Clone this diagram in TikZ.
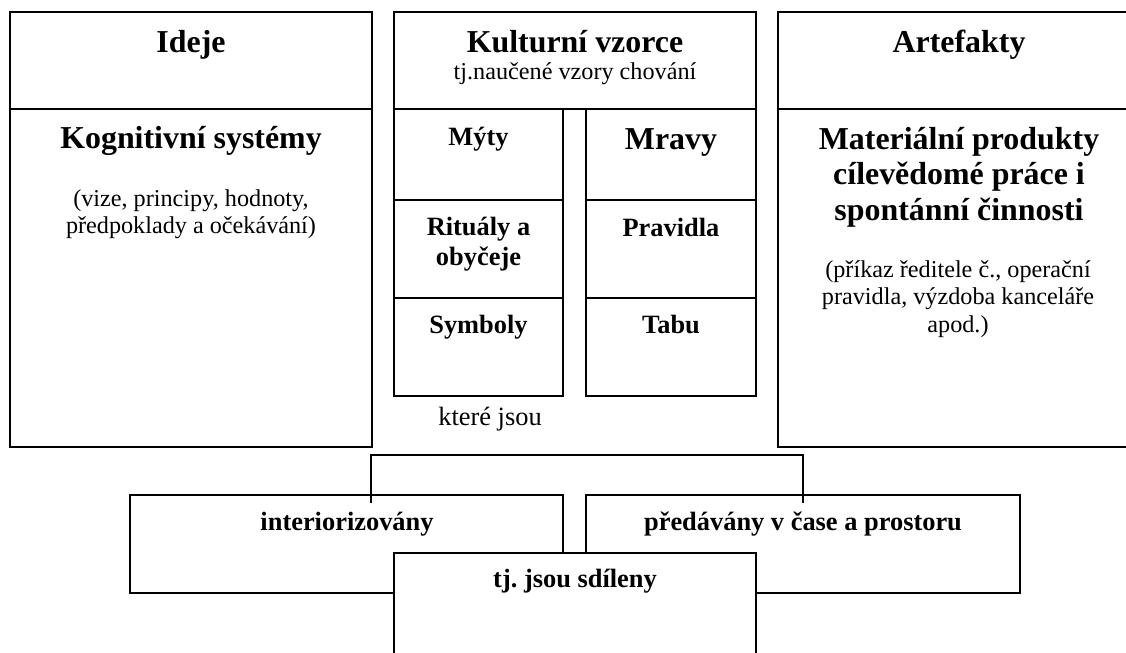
\documentclass[tikz,border=0pt]{standalone}
\usepackage{fontspec}
\setmainfont{Liberation Serif}
\frenchspacing
\usetikzlibrary{positioning}
\newlength\px
\setlength\px{0.4545pt}
\tikzset{%
  cell/.style 2 args = {shape=rectangle, draw, line width=0.5pt,%
                        anchor=north west, inner sep=0pt, outer sep=0pt,%
                        minimum width=#1\px, minimum height=#2\px},%
  bighead/.style = {anchor=base, align=center,%
                    font=\fontsize{14.5}{16}\selectfont\bfseries},%
  subhead/.style = {anchor=base, align=center,%
                    font=\fontsize{12}{13.2}\selectfont\bfseries},%
  remark/.style  = {anchor=base, align=center,%
                    font=\fontsize{11}{12}\selectfont},%
  link/.style    = {draw, line width=1pt}%
}

\begin{document}
\begin{tikzpicture}[x=\px, y=-\px]%
	\useasboundingbox (0,0) rectangle (1126,652);
	% upper row: three columns
	\node (ideH) at (10,12)  [cell={362}{97}]  {};%
	\node (ideB) at (10,109) [cell={362}{338}] {};%
	\node (kulH) at (394,12) [cell={362}{97}]  {};%
	\node (myty) at (394,109) [cell={169}{91}] {};%
	\node (ritu) at (394,200) [cell={169}{98}] {};%
	\node (symb) at (394,298) [cell={169}{98}] {};%
	\node (mrav) at (586,109) [cell={170}{91}] {};%
	\node (prav) at (586,200) [cell={170}{98}] {};%
	\node (tabu) at (586,298) [cell={170}{98}] {};%
	\node (artH) at (778,12)  [cell={362}{97}]  {};%
	\node (artB) at (778,109) [cell={362}{338}] {};%
	% texts (multi-line ones sit on their last line)
	\node (tIde) at (191,52)  [bighead] {Ideje};%
	\node (tKog) at (191,148) [bighead] {Kognitivní systémy};%
	\node (tVize) at (191,233) [remark] {(vize, principy, hodnoty,\\předpoklady a očekávání)};%
	\node (tKul) at (575,52)  [bighead] {Kulturní vzorce};%
	\node (tNau) at (575,79)  [remark]  {tj.naučené vzory chování};%
	\node (tMyt) at (478.5,145) [subhead] {Mýty};%
	\node (tRit) at (478.5,265) [subhead] {Rituály a\\obyčeje};%
	\node (tSym) at (478.5,333) [subhead] {Symboly};%
	\node (tMra) at (671,149) [bighead] {Mravy};%
	\node (tPra) at (671,236) [subhead] {Pravidla};%
	\node (tTab) at (671,333) [subhead] {Tabu};%
	\node (tJsou) at (490,425) [remark, font=\fontsize{12}{13}\selectfont] {které jsou};%
	\node (tArt) at (959,52)  [bighead] {Artefakty};%
	\node (tMat) at (959,220) [bighead] {Materiální produkty\\cílevědomé práce i\\spontánní činnosti};%
	\node (tPri) at (958,332) [remark, font=\fontsize{11}{12.3}\selectfont]
		{(příkaz ředitele č., operační\\pravidla, výzdoba kanceláře\\apod.)};%
	% lower row
	\node (inter) at (130,495) [cell={433}{98}] {};%
	\node (pred)  at (586,495) [cell={434}{98}] {};%
	\node (sdil)  at (394,553) [cell={362}{110}, fill=white] {};%
	\node (tInt) at (347,530) [subhead] {interiorizovány};%
	\node (tPre) at (803,530) [subhead] {předávány v čase a prostoru};%
	\node (tSdi) at (575,587) [subhead] {tj. jsou sdíleny};%
	% connector
	\coordinate (jl) at (371,503);%
	\coordinate (jr) at ([yshift=-8\px]pred.north);%
	\draw[link] (jl) -- ++(0,-48) -| (jr);%
\end{tikzpicture}
\end{document}
